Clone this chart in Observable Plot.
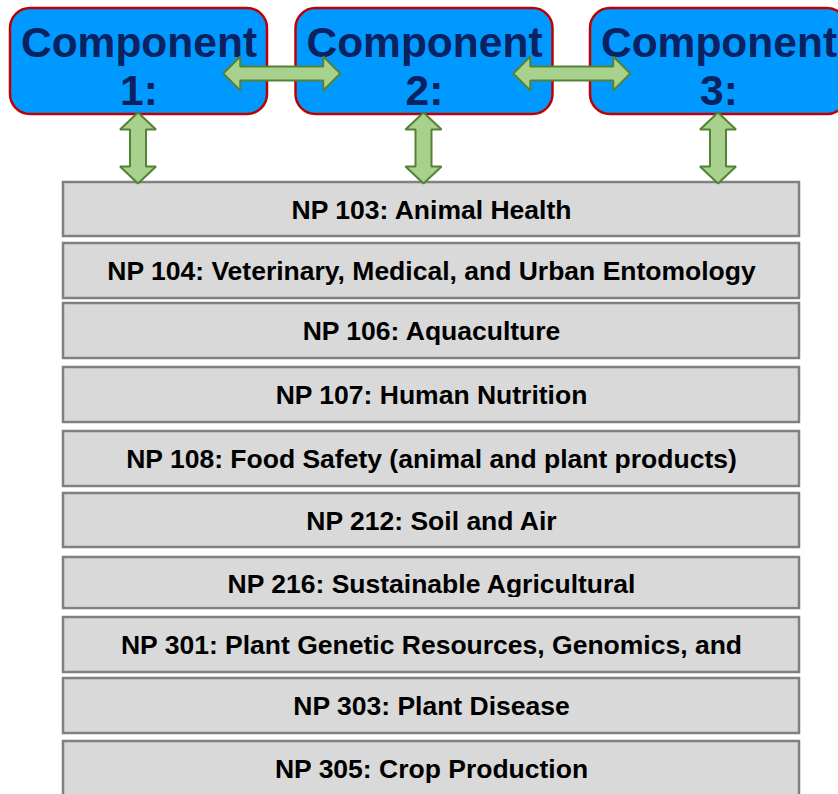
<!DOCTYPE html>
<html>
<head>
<meta charset="utf-8">
<script src="https://cdn.jsdelivr.net/npm/d3@7"></script>
<script src="https://cdn.jsdelivr.net/npm/@observablehq/plot@0.6"></script>
<style>
  html, body { margin: 0; padding: 0; background: #ffffff; overflow: hidden; }
  svg { display: block; }
</style>
</head>
<body>
<div id="chart"></div>
<script>
// ---- data (labels only) ----
const components = ["Component 1:", "Component 2:", "Component 3:"];
const programs = [
  "NP 103: Animal Health",
  "NP 104: Veterinary, Medical, and Urban Entomology",
  "NP 106: Aquaculture",
  "NP 107: Human Nutrition",
  "NP 108: Food Safety (animal and plant products)",
  "NP 212: Soil and Air",
  "NP 216: Sustainable Agricultural",
  "NP 301: Plant Genetic Resources, Genomics, and",
  "NP 303: Plant Disease",
  "NP 305: Crop Production"
];
// links between neighbouring components (index pairs)
const componentLinks = [[0, 1], [1, 2]];

// ---- layout (pixel units, kept apart from the data) ----
const W = 838, H = 794;
const compCenters = [138.5, 424, 718.5];
const compHalfW = 128.5, compTop = 8, compBottom = 114;
const listLeft = 63, listRight = 799;
const listTops = [182, 243, 303, 367, 431, 493, 557, 617, 678, 741];
const listBottoms = [236, 298, 358, 422, 486, 547, 608, 672, 733, 800];
const listTextClip = {6: 597}; // label overflowing its box is cut here

const compRows = components.map((label, i) => ({
  label: label.replace(" ", "\n"),
  x1: compCenters[i] - compHalfW, x2: compCenters[i] + compHalfW,
  y1: compTop, y2: compBottom, cx: compCenters[i], cy: (compTop + compBottom) / 2 + 4.4
}));
const progRows = programs.map((label, i) => ({
  label, x1: listLeft, x2: listRight, y1: listTops[i], y2: listBottoms[i],
  cy: listTops[i] + 28.5 - (i === 6 ? 1 : 0), clip: listTextClip[i]
}));
const clipRows = progRows.filter(d => d.clip !== undefined);

function arrow(id, cx, cy, half, vertical, head = 17, hw = 17, sw = 7) {
  const pts = [
    [-half, 0], [-half + head, -hw], [-half + head, -sw], [half - head, -sw], [half - head, -hw],
    [half, 0], [half - head, hw], [half - head, sw], [-half + head, sw], [-half + head, hw]
  ];
  return pts.map(([a, b]) => vertical ? {id, x: cx + b, y: cy + a} : {id, x: cx + a, y: cy + b});
}
const arrowPts = [];
componentLinks.forEach(([a, b], k) => {
  const gapMid = (compRows[a].x2 + compRows[b].x1) / 2;
  arrowPts.push(...arrow("h" + k, gapMid, 73, 58.5, false));
});
compRows.forEach((c, k) => {
  const top = compBottom - 2, bottom = listTops[0] + 1;
  arrowPts.push(...arrow("v" + k, c.cx - 1, (top + bottom) / 2, (bottom - top) / 2, true, 17, 18, 8));
});

const font = "'Liberation Sans', Arial, Helvetica, sans-serif";

const chart = Plot.plot({
  width: W, height: H,
  margin: 0,
  style: {background: "#ffffff", fontFamily: font, overflow: "hidden"},
  x: {domain: [0, W], range: [0, W], axis: null},
  y: {domain: [0, H], range: [0, H], axis: null},
  marks: [
    Plot.rect(progRows, {x1: "x1", x2: "x2", y1: "y1", y2: "y2", fill: "#d9d9d9", stroke: "#808080", strokeWidth: 2.5}),
    Plot.text(progRows, {x: d => (d.x1 + d.x2) / 2, y: "cy", text: "label", fontSize: 26.5, fontWeight: "bold", fill: "#000000", fontFamily: font}),
    Plot.rect(clipRows, {x1: d => d.x1 + 2, x2: d => d.x2 - 2, y1: "clip", y2: d => d.y2 - 1.5, fill: "#d9d9d9"}),
    Plot.rect(compRows, {x1: "x1", x2: "x2", y1: "y1", y2: "y2", rx: 20, ry: 20, fill: "#0099ff", stroke: "#c00000", strokeWidth: 2.5}),
    Plot.text(compRows, {x: "cx", y: "cy", text: "label", fontSize: 42.5, fontWeight: "bold", lineHeight: 1.13, fill: "#0b2160", fontFamily: font}),
    Plot.line(arrowPts, {x: "x", y: "y", z: "id", curve: "linear-closed", fill: "#a9d18e", stroke: "#548235", strokeWidth: 2, strokeLinejoin: "miter"})
  ]
});
document.getElementById("chart").appendChild(chart);
</script>
</body>
</html>
